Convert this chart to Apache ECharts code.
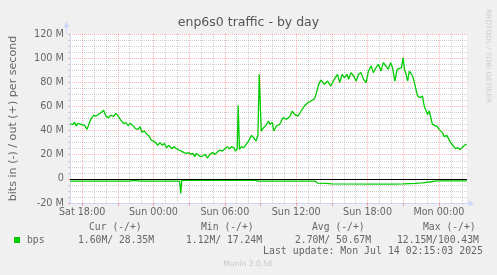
<!DOCTYPE html>
<html>
<head>
<meta charset="utf-8">
<script src="https://cdn.jsdelivr.net/npm/echarts@6/dist/echarts.min.js"></script>
<style>
html,body{margin:0;padding:0;background:#F0F0F0;}
#chart{width:497px;height:275px;}
</style>
</head>
<body>
<div id="chart"></div>
<script>
// ---- data (hours since Sat 00:00, Mbit/s) ----
const titleText = 'enp6s0 traffic - by day';
const yAxisTitle = 'bits in (-) / out (+) per second';
const xMinHour = 16.98;
const xMaxHour = 50.36;
const labelHours = [18, 24, 30, 36, 42, 48];
const labelNames = ['Sat 18:00', 'Sun 00:00', 'Sun 06:00', 'Sun 12:00', 'Sun 18:00', 'Mon 00:00'];
const majorHours = [18, 21, 24, 27, 30, 33, 36, 39, 42, 45, 48];
const minorHours = [17, 19, 20, 22, 23, 25, 26, 28, 29, 31, 32, 34, 35, 37, 38, 40, 41, 43, 44, 46, 47, 49, 50];
const yTicks = [-20, 0, 20, 40, 60, 80, 100, 120];

// out (+) traffic
const outPoints = [
[17.00,45.5],[17.09,46.6],[17.23,45.2],[17.36,47.1],[17.50,43.7],[17.64,46],[17.92,45.2],[18.20,44.3],[18.42,41],[18.61,46.6],
[18.81,50.7],[18.97,52.6],[19.17,52],[19.36,53.4],[19.58,54.8],[19.80,56.8],[20.00,52],[20.19,50.7],[20.41,52.6],[20.64,51.8],
[20.83,54.3],[21.03,52],[21.25,48.7],[21.47,46],[21.66,46.6],[21.86,44.3],[22.08,46],[22.30,43.7],[22.49,41.6],[22.69,41],
[22.88,43.2],[23.02,38.8],[23.24,39.6],[23.44,36.9],[23.63,35.5],[23.80,32.2],[23.99,31.4],[24.19,30],[24.35,27.8],[24.55,30],
[24.74,27.8],[24.91,29.4],[25.10,25.8],[25.30,27.8],[25.52,25],[25.74,26.7],[25.93,25],[26.13,23.9],[26.35,23],[26.57,21.7],
[26.77,21.1],[26.96,21.7],[27.13,20.3],[27.32,21.1],[27.46,18.4],[27.60,21.1],[27.79,19.5],[27.96,18.4],[28.13,18.9],[28.35,20.3],
[28.54,17.24],[28.74,20.3],[28.96,21.7],[29.18,20.3],[29.37,22.2],[29.57,23.9],[29.79,23],[30.01,25],[30.20,26.7],[30.40,25],
[30.57,26.7],[30.76,25.8],[30.90,23],[31.04,25],[31.12,60.9],[31.23,24.4],[31.40,26.7],[31.59,25.8],[31.79,28.6],[32.01,31.4],
[32.23,36],[32.42,34.1],[32.62,31.4],[32.78,36],[32.89,86.6],[33.06,39.6],[33.26,42.4],[33.45,44.3],[33.67,47.9],[33.78,45.2],
[34.00,46.6],[34.11,39.6],[34.34,43.7],[34.61,45.2],[34.89,50.7],[35.17,49.3],[35.45,51.5],[35.67,56.2],[35.86,53.4],[36.14,52],
[36.42,56.2],[36.69,60.3],[36.97,63.1],[37.25,64.5],[37.53,66.4],[37.66,70],[37.89,78.3],[38.08,81.9],[38.36,78.3],[38.64,81],
[38.91,76.9],[39.19,82.4],[39.47,86.6],[39.66,79.7],[39.85,86.6],[40.05,83.8],[40.27,86.6],[40.41,82.4],[40.60,88],[40.83,85.2],
[41.05,81],[41.24,86.6],[41.44,88],[41.66,82.4],[41.88,79.7],[42.07,89.3],[42.30,93.5],[42.49,88],[42.71,92.1],[42.91,94.9],
[43.13,89.3],[43.32,96.3],[43.54,93.5],[43.74,90.7],[43.93,96.3],[44.10,92.1],[44.29,81],[44.49,90.7],[44.65,90.7],[44.85,92.1],
[44.99,100.43],[45.10,90.7],[45.24,86.6],[45.37,81],[45.51,89.3],[45.65,88],[45.79,85.2],[45.93,79.7],[46.07,81],[46.21,68.6],
[46.43,67.3],[46.62,68.6],[46.76,60.3],[46.90,59],[47.04,53.4],[47.18,56.2],[47.32,50.7],[47.45,45.2],[47.59,44.3],[47.87,43.2],
[48.01,41],[48.29,38.3],[48.43,35],[48.65,36],[48.84,32.7],[48.98,30],[49.20,27.2],[49.40,25],[49.59,25.8],[49.76,24.4],
[49.95,25.8],[50.09,25],[50.23,28.6],[50.33,28.35]
];

// in (-) traffic
const inPoints = [
[17.00,-1.9],[18.40,-1.9],[18.50,-1.5],[18.60,-1.9],[22.00,-1.9],[22.20,-1.5],[22.60,-1.5],[22.80,-1.9],
[26.20,-1.9],[26.29,-12.15],[26.38,-1.2],[29.00,-1.2],[29.10,-0.9],[29.20,-1.12],[32.60,-1.2],[32.80,-1.9],
[37.60,-1.9],[37.80,-3.5],[38.50,-3.8],[39.00,-4.2],[44.00,-4.4],[45.00,-4.2],[46.00,-3.8],[46.60,-3.3],
[47.20,-2.6],[47.70,-1.9],[48.00,-1.6],[50.33,-1.6]
];

const legendHeaders = ['Cur (-/+)', 'Min (-/+)', 'Avg (-/+)', 'Max (-/+)'];
const legendName = 'bps';
const legendValues = ['1.60M/ 28.35M', '1.12M/ 17.24M', '2.70M/ 50.67M', '12.15M/100.43M'];
const lastUpdate = 'Last update: Mon Jul 14 02:15:03 2025';
const footer = 'Munin 2.0.56';
const watermark = 'RRDTOOL / TOBI OETIKER';

// ---- styles ----
const FONT = '"DejaVu Sans", sans-serif';
const MONO = '"DejaVu Sans Mono", monospace';
const TXT = '#666666';
const AXIS = '#CFD6F8';
const MGRID = 'rgba(255,0,0,0.30)';
const GRID = 'rgba(128,128,128,0.37)';
const GREEN = '#00CC00';

const chart = echarts.init(document.getElementById('chart'), null, {renderer: 'canvas'});

const headerX = [89, 201, 312, 423];
const valueX = [78, 186, 295, 397];

const graphics = [];
legendHeaders.forEach((t, i) => graphics.push({type: 'text', left: headerX[i], top: 222,
  style: {text: t, font: '9.72px ' + MONO, fill: TXT}}));
graphics.push({type: 'rect', shape: {x: 14, y: 237, width: 6, height: 6}, style: {fill: GREEN}});
graphics.push({type: 'text', left: 27, top: 235, style: {text: legendName, font: '9.72px ' + MONO, fill: TXT}});
legendValues.forEach((t, i) => graphics.push({type: 'text', left: valueX[i], top: 235,
  style: {text: t, font: '9.72px ' + MONO, fill: TXT}}));
graphics.push({type: 'text', right: 14, top: 246.5, style: {text: lastUpdate, font: '9.9px ' + MONO, fill: TXT}});
graphics.push({type: 'text', x: 248, y: 264, style: {text: footer, font: '7.6px ' + FONT, fill: '#C8C8C8', align: 'center', verticalAlign: 'middle'}});
graphics.push({type: 'text', x: 487.5, y: 56, rotation: -Math.PI / 2,
  style: {text: watermark, font: '7.3px ' + FONT, fill: '#CFCFCF', align: 'center', verticalAlign: 'middle'}});
// axis extensions (rrdtool style arrows)
graphics.push({type: 'line', shape: {x1: 66.5, y1: 34, x2: 66.5, y2: 27}, style: {stroke: AXIS, lineWidth: 1}});
graphics.push({type: 'polygon', shape: {points: [[63.5, 27.5], [69.5, 27.5], [66.5, 21.5]]}, style: {fill: AXIS}});
graphics.push({type: 'line', shape: {x1: 467, y1: 203.5, x2: 469, y2: 203.5}, style: {stroke: AXIS, lineWidth: 1}});
graphics.push({type: 'polygon', shape: {points: [[468.5, 200.5], [468.5, 206.5], [474.5, 203.5]]}, style: {fill: AXIS}});

const option = {
  animation: false,
  backgroundColor: '#F0F0F0',
  textStyle: {fontFamily: FONT},
  title: {
    text: titleText, left: 'center', top: 11,
    textStyle: {fontFamily: FONT, fontSize: 12.5, fontWeight: 'normal', color: '#555555'}
  },
  grid: {left: 66, right: 30, top: 34, bottom: 72, show: true, backgroundColor: '#FFFFFF', borderWidth: 0},
  xAxis: [{
    type: 'value', min: xMinHour, max: xMaxHour, position: 'bottom',
    axisLine: {show: true, onZero: false, lineStyle: {color: AXIS, width: 1}},
    axisTick: {show: true, length: 3, customValues: majorHours, lineStyle: {color: MGRID}},
    axisLabel: {show: true, customValues: labelHours, margin: 4, fontSize: 9.6, color: TXT, fontFamily: FONT,
      formatter: v => labelNames[labelHours.indexOf(Math.round(v))] || ''},
    splitLine: {show: true, lineStyle: {color: MGRID, type: [1, 1], width: 1}}
  }, {
    type: 'value', min: xMinHour, max: xMaxHour, position: 'bottom',
    axisLine: {show: false},
    axisTick: {show: false, customValues: minorHours},
    axisLabel: {show: false},
    splitLine: {show: true, lineStyle: {color: GRID, type: [1, 1], width: 1}}
  }],
  yAxis: {
    type: 'value', min: yTicks[0], max: yTicks[yTicks.length - 1], interval: 20,
    name: yAxisTitle, nameLocation: 'middle', nameGap: 51, nameRotate: 90,
    nameTextStyle: {fontFamily: FONT, fontSize: 11.1, color: TXT},
    axisLine: {show: true, lineStyle: {color: AXIS, width: 1}},
    axisTick: {show: true, length: 2, lineStyle: {color: MGRID}},
    minorTick: {show: true, splitNumber: 4, length: 2, lineStyle: {color: GRID}},
    axisLabel: {margin: 6, fontSize: 9.72, color: TXT, fontFamily: FONT,
      formatter: v => v === 0 ? '0' : v + ' M'},
    splitLine: {show: true, lineStyle: {color: MGRID, type: [1, 1], width: 1}},
    minorSplitLine: {show: true, lineStyle: {color: GRID, type: [1, 1], width: 1}}
  },
  series: [{
    name: 'out', type: 'line', xAxisIndex: 0, data: outPoints, showSymbol: false, symbol: 'none',
    lineStyle: {color: GREEN, width: 1.3}, itemStyle: {color: GREEN}, z: 3,
    markLine: {silent: true, symbol: 'none', label: {show: false},
      lineStyle: {color: '#000000', type: 'solid', width: 1}, data: [{yAxis: 0}]}
  }, {
    name: 'in', type: 'line', xAxisIndex: 0, data: inPoints, showSymbol: false, symbol: 'none',
    lineStyle: {color: GREEN, width: 1.3}, itemStyle: {color: GREEN}, z: 3
  }],
  graphic: graphics
};
chart.setOption(option);
</script>
</body>
</html>
